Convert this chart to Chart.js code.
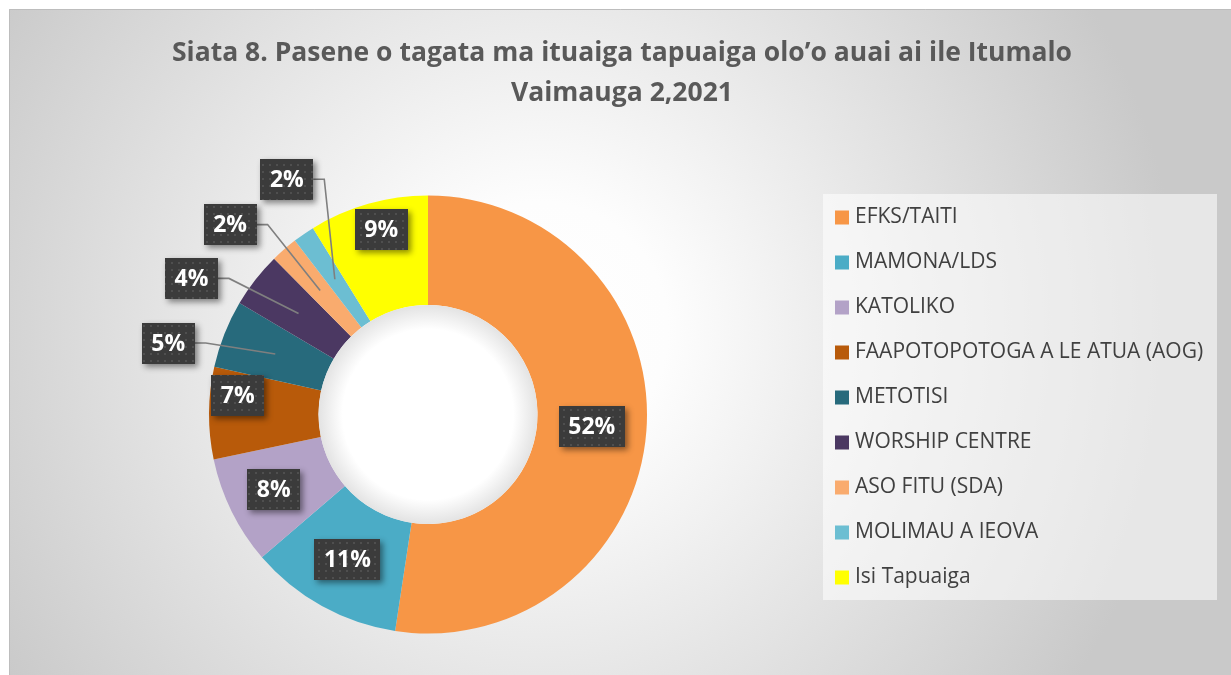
<!DOCTYPE html>
<html>
<head>
<meta charset="utf-8">
<title>Siata 8</title>
<script src="https://cdn.jsdelivr.net/npm/chart.js@4.4.1/dist/chart.umd.min.js"></script>
<style>
    html, body { margin: 0; padding: 0; background: #ffffff; }
    #wrap { width: 1231px; height: 675px; }
</style>
</head>
<body>
<div id="wrap"><canvas id="siata8" width="1231" height="675"></canvas></div>
<script>
// ---- data ----
const categories = [
    'EFKS/TAITI',
    'MAMONA/LDS',
    'KATOLIKO',
    'FAAPOTOPOTOGA A LE ATUA (AOG)',
    'METOTISI',
    'WORSHIP CENTRE',
    'ASO FITU (SDA)',
    'MOLIMAU A IEOVA',
    'Isi Tapuaiga'
];
const shares = [52.4, 11.3, 8.0, 6.8, 5.0, 4.1, 2.0, 1.6, 8.8];
const titleLines = ['Siata 8. Pasene o tagata ma ituaiga tapuaiga olo\u2019o auai ai ile Itumalo', 'Vaimauga 2,2021'];

// ---- styles ----
const sliceColors = ['#F79646', '#4BACC6', '#B3A2C7', '#B85A0A', '#276A7C', '#4B3862', '#F9AB6E', '#6CBED2', '#FFFF00'];
// label nudges from the middle of each ring segment (px), and which ones get a leader line
const labelShift = [[0, 0], [-1, 1], [-7, 2], [-26, -18], [-107, -11], [-107, -35], [-90, -66], [-48, -100], [-2, -27]];
const hasLeader = [false, false, false, false, true, true, true, true, false];

const FONT = '"Open Sans", "Noto Sans", sans-serif';

// dotted dark fill used by the data label boxes
function makeDotPattern(ctx) {
    const tile = document.createElement('canvas');
    tile.width = 7;
    tile.height = 7;
    const t = tile.getContext('2d');
    t.fillStyle = '#3b3b3b';
    t.fillRect(0, 0, 7, 7);
    t.fillStyle = '#4f4f4f';
    t.fillRect(3, 3, 2, 2);
    return ctx.createPattern(tile, 'repeat');
}

const backdropPlugin = {
    id: 'backdrop',
    beforeDraw(chart) {
        const ctx = chart.ctx;
        ctx.save();
        ctx.fillStyle = '#ffffff';
        ctx.fillRect(0, 0, chart.width, chart.height);
        const g = ctx.createRadialGradient(540, 330, 0, 540, 330, 640);
        g.addColorStop(0, '#ffffff');
        g.addColorStop(0.2, '#fdfdfd');
        g.addColorStop(1, '#c9c9c9');
        ctx.fillStyle = g;
        ctx.fillRect(9, 9, chart.width - 9, chart.height - 9);
        ctx.strokeStyle = '#bdbdbd';
        ctx.lineWidth = 1;
        ctx.beginPath();
        ctx.moveTo(9.5, chart.height);
        ctx.lineTo(9.5, 9.5);
        ctx.lineTo(chart.width, 9.5);
        ctx.stroke();

        // title
        ctx.fillStyle = '#595959';
        ctx.font = 'bold 26.5px ' + FONT;
        ctx.textAlign = 'center';
        ctx.textBaseline = 'alphabetic';
        ctx.fillText(titleLines[0], 622, 61);
        ctx.fillText(titleLines[1], 622, 101);
        ctx.restore();
    }
};

const holePlugin = {
    id: 'holeShade',
    afterDatasetsDraw(chart) {
        const arc = chart.getDatasetMeta(0).data[0];
        if (!arc) return;
        const ctx = chart.ctx;
        const r = arc.innerRadius;
        ctx.save();
        const g = ctx.createRadialGradient(arc.x, arc.y, 0, arc.x, arc.y, r);
        g.addColorStop(0, '#ffffff');
        g.addColorStop(0.78, '#ffffff');
        g.addColorStop(1, '#e3e3e3');
        ctx.fillStyle = g;
        ctx.beginPath();
        ctx.arc(arc.x, arc.y, r, 0, Math.PI * 2);
        ctx.fill();
        ctx.restore();
    }
};

const calloutPlugin = {
    id: 'callouts',
    afterDatasetsDraw(chart) {
        const ctx = chart.ctx;
        const meta = chart.getDatasetMeta(0);
        const values = chart.data.datasets[0].data;
        const total = values.reduce((a, b) => a + b, 0);
        const pattern = makeDotPattern(ctx);
        ctx.save();
        ctx.font = 'bold 23px ' + FONT;

        const boxes = meta.data.map((arc, i) => {
            const mid = (arc.startAngle + arc.endAngle) / 2;
            const rMid = (arc.innerRadius + arc.outerRadius) / 2;
            const px = arc.x + Math.cos(mid) * rMid;
            const py = arc.y + Math.sin(mid) * rMid;
            const text = Math.round(values[i] / total * 100) + '%';
            const w = ctx.measureText(text).width + 19;
            const h = 41;
            return { px, py, cx: px + labelShift[i][0], cy: py + labelShift[i][1], w, h, text, leader: hasLeader[i] };
        });

        // leader lines first
        ctx.strokeStyle = '#7f7f7f';
        ctx.lineWidth = 1.6;
        boxes.forEach(b => {
            if (!b.leader) return;
            const sx = b.cx + b.w / 2;
            ctx.beginPath();
            ctx.moveTo(sx, b.cy);
            ctx.lineTo(sx + 11, b.cy);
            ctx.lineTo(b.px, b.py);
            ctx.stroke();
        });

        boxes.forEach(b => {
            const x = Math.round(b.cx - b.w / 2);
            const y = Math.round(b.cy - b.h / 2);
            ctx.save();
            ctx.shadowColor = 'rgba(0, 0, 0, 0.45)';
            ctx.shadowBlur = 6;
            ctx.shadowOffsetX = 3;
            ctx.shadowOffsetY = 3;
            ctx.fillStyle = '#3b3b3b';
            ctx.fillRect(x, y, Math.round(b.w), b.h);
            ctx.restore();
            ctx.fillStyle = pattern;
            ctx.fillRect(x, y, Math.round(b.w), b.h);
            ctx.fillStyle = '#ffffff';
            ctx.textAlign = 'center';
            ctx.textBaseline = 'middle';
            ctx.fillText(b.text, b.cx, b.cy + 1);
        });
        ctx.restore();
    }
};

const sideLegendPlugin = {
    id: 'sideLegend',
    afterDraw(chart) {
        const ctx = chart.ctx;
        const ds = chart.data.datasets[0];
        ctx.save();
        ctx.fillStyle = 'rgba(255, 255, 255, 0.55)';
        ctx.fillRect(823, 194, 394, 406);
        ctx.font = '21px ' + FONT;
        ctx.textAlign = 'left';
        ctx.textBaseline = 'middle';
        chart.data.labels.forEach((label, i) => {
            const y = 217.5 + i * 45;
            ctx.fillStyle = ds.backgroundColor[i];
            ctx.fillRect(835, y - 7, 14, 14);
            ctx.fillStyle = '#404040';
            ctx.fillText(label, 855, y);
        });
        ctx.restore();
    }
};

const chart = new Chart(document.getElementById('siata8'), {
    type: 'doughnut',
    data: {
        labels: categories,
        datasets: [{
            data: shares,
            backgroundColor: sliceColors,
            borderWidth: 0,
            hoverOffset: 0,
            offset: 0
        }]
    },
    options: {
        responsive: false,
        animation: false,
        events: [],
        cutout: '50%',
        layout: {
            padding: { left: 209, top: 195.5, right: 584, bottom: 41.5 }
        },
        plugins: {
            legend: { display: false },
            title: { display: false },
            tooltip: { enabled: false }
        }
    },
    plugins: [backdropPlugin, holePlugin, calloutPlugin, sideLegendPlugin]
});
</script>
</body>
</html>
